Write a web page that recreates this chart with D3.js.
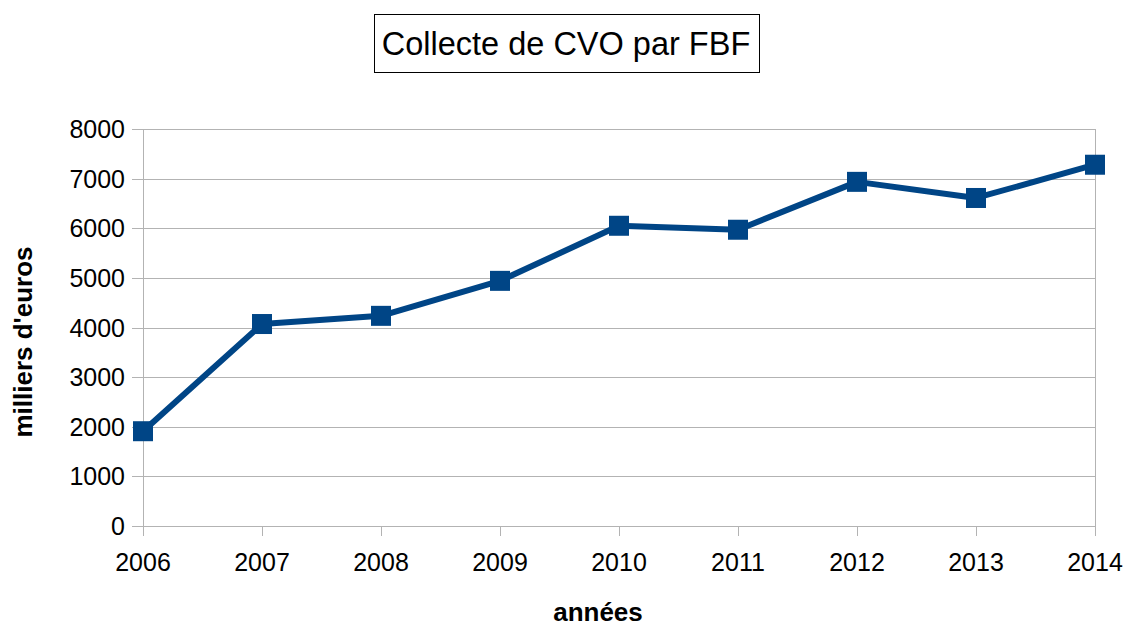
<!DOCTYPE html>
<html>
<head>
<meta charset="utf-8">
<script src="https://cdn.jsdelivr.net/npm/d3@7"></script>
<style>
  body { margin: 0; background: #fff; }
  text { font-family: "Liberation Sans", Arial, sans-serif; }
</style>
</head>
<body>
<div id="chart"></div>
<script>
var years = ["2006", "2007", "2008", "2009", "2010", "2011", "2012", "2013", "2014"];
var collecte = [1910, 4070, 4235, 4940, 6050, 5970, 6935, 6610, 7280];
var yTicks = [0, 1000, 2000, 3000, 4000, 5000, 6000, 7000, 8000];

var width = 1127, height = 626,
  mLeft = 143, mRight = 1095, mTop = 129, mBottom = 526,
  grid = "#b3b3b3", blue = "#004586";

var svg = d3.select("#chart").append("svg")
  .attr("width", width).attr("height", height)

var x = d3.scalePoint().domain(years).range([mLeft, mRight]);
var y = d3.scaleLinear().domain([0, 8000]).range([mBottom, mTop]);

// grid lines
svg.append("g").selectAll("line")
  .data(yTicks)
  .enter().append("line")
  .attr("x1", mLeft - 11).attr("x2", mRight)
  .attr("y1", function(d){ return Math.round(y(d)) + 0.5 }).attr("y2", function(d){ return Math.round(y(d)) + 0.5 })
  .style("stroke", grid).style("stroke-width", 1)

// y axis and right border
svg.append("line").attr("x1", mLeft + 0.5).attr("x2", mLeft + 0.5)
  .attr("y1", mTop).attr("y2", mBottom + 10).style("stroke", grid)
svg.append("line").attr("x1", mRight + 0.5).attr("x2", mRight + 0.5)
  .attr("y1", mTop).attr("y2", mBottom + 10).style("stroke", grid)

// x ticks
svg.append("g").selectAll("line")
  .data(years)
  .enter().append("line")
  .attr("x1", function(d){ return Math.round(x(d)) + 0.5 }).attr("x2", function(d){ return Math.round(x(d)) + 0.5 })
  .attr("y1", mBottom).attr("y2", mBottom + 10)
  .style("stroke", grid)

// y labels
svg.append("g").selectAll("text")
  .data(yTicks)
  .enter().append("text")
  .attr("x", 125).attr("y", function(d){ return y(d) + 9 })
  .attr("text-anchor", "end")
  .style("font-size", "25px")
  .text(function(d){ return d })

// x labels
svg.append("g").selectAll("text")
  .data(years)
  .enter().append("text")
  .attr("x", function(d){ return x(d) }).attr("y", 571)
  .attr("text-anchor", "middle")
  .style("font-size", "25px")
  .text(function(d){ return d })

// line
var line = d3.line()
  .x(function(d, i){ return x(years[i]) })
  .y(function(d){ return y(d) })

svg.append("path")
  .datum(collecte)
  .attr("d", line)
  .style("fill", "none").style("stroke", blue)
  .style("stroke-width", 6).style("stroke-linejoin", "round")

svg.append("g").selectAll("rect")
  .data(collecte)
  .enter().append("rect")
  .attr("x", function(d, i){ return x(years[i]) - 10 })
  .attr("y", function(d){ return y(d) - 10 })
  .attr("width", 20).attr("height", 20)
  .style("fill", blue)

// title
svg.append("rect").attr("x", 374.5).attr("y", 14.5).attr("width", 385).attr("height", 58)
  .style("fill", "#fff").style("stroke", "#000")
svg.append("text").attr("x", 566).attr("y", 55)
  .attr("text-anchor", "middle").style("font-size", "32.5px")
  .text("Collecte de CVO par FBF")

// axis titles
svg.append("text").attr("x", 598).attr("y", 621)
  .attr("text-anchor", "middle").style("font-size", "26px").style("font-weight", "bold")
  .text("années")
svg.append("text")
  .attr("transform", "translate(32,342) rotate(-90)")
  .attr("text-anchor", "middle").style("font-size", "26px").style("font-weight", "bold")
  .text("milliers d'euros")
</script>
</body>
</html>
